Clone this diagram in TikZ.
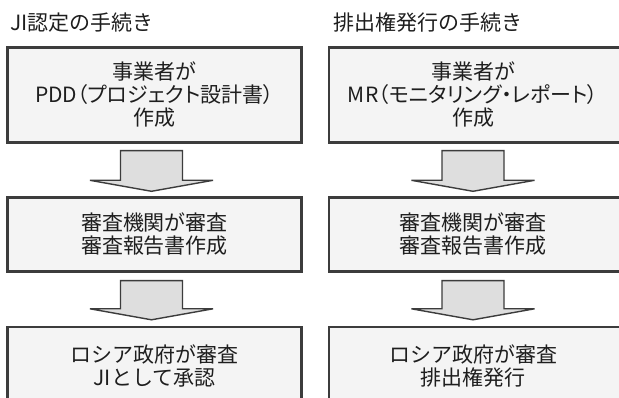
\documentclass[tikz,border=0pt]{standalone}
\usepackage{fontspec}
\setmainfont{Noto Sans CJK JP}
\newfontfamily\propfont[RawFeature=+palt]{Noto Sans CJK JP}
\usetikzlibrary{calc}
\definecolor{boxfill}{HTML}{F4F4F4}
\definecolor{boxline}{HTML}{3C3C3C}
\definecolor{arrfill}{HTML}{DEDEDE}
\definecolor{txt}{HTML}{1E1E1E}
\tikzset{
  stepbox/.style={draw=boxline, line width=2.4pt, fill=boxfill, inner sep=0pt,
    align=center, text=txt, font=\fontsize{21}{23}\selectfont},
  title/.style={anchor=west, inner sep=0pt, text=txt, font=\fontsize{21}{23}\selectfont},
  blockarr/.style={draw=boxline, line width=1.4pt, fill=arrfill, line join=miter},
  boxlabel/.style={align=center, text=txt, font=\fontsize{21}{23}\selectfont, inner sep=0pt}
}
\newcommand{\blockarrow}[2]{%
  \draw[blockarr] ($(#1)+(-31,0)$) -- ($(#1)+(31,0)$) -- ($(#2)+(31,-11)$)
    -- ($(#2)+(61.5,-11)$) -- (#2) -- ($(#2)+(-61.5,-11)$)
    -- ($(#2)+(-31,-11)$) -- cycle;}
\begin{document}
\begin{tikzpicture}[x=1pt,y=-1pt]
\useasboundingbox (0,0) rectangle (619,398);
\clip (0,0) rectangle (619,398);
\fill[white] (0,0) rectangle (619,398);

% titles
\node[title] (t1) at (10,22.5) {JI認定の手続き};
\node[title] (t2) at (333,22.5) {排出権発行の手続き};

% left column
\node[stepbox, minimum width=294, minimum height=95] (l1) at (154.5,95)
  {事業者が\\{\propfont PDD（プロジェクト設計書）}\\作成};
\node[stepbox, minimum width=294, minimum height=74] (l2) at (154.5,234.5)
  {審査機関が審査\\審査報告書作成};
\node[stepbox, minimum width=294, minimum height=78] (l3) at (154.5,366)
  {ロシア政府が審査\\JIとして承認};

% right column (box runs past the right edge)
\node[stepbox, minimum width=311, minimum height=95] (r1) at (484.5,95)
  {\phantom{x}};
\node[boxlabel] (r1t) at ($(r1.center)+(-11.5,0)$)
  {事業者が\\{\propfont MR（モニタリング・レポート）}\\作成};
\node[stepbox, minimum width=311, minimum height=74] (r2) at (484.5,234.5)
  {\phantom{x}};
\node[boxlabel] (r2t) at ($(r2.center)+(-11.5,0)$)
  {審査機関が審査\\審査報告書作成};
\node[stepbox, minimum width=311, minimum height=78] (r3) at (484.5,366)
  {\phantom{x}};
\node[boxlabel] (r3t) at ($(r3.center)+(-11.5,0)$)
  {ロシア政府が審査\\排出権発行};

% arrow anchor coordinates
\coordinate (la1) at ($(l1.south)+(-3,7)$);
\coordinate (lt1) at ($(l2.north)+(-3,-5)$);
\coordinate (la2) at ($(l2.south)+(-3,8)$);
\coordinate (lt2) at ($(l3.north)+(-3,-6)$);
\coordinate (ra1) at ($(r1.south)+(-11.5,7)$);
\coordinate (rt1) at ($(r2.north)+(-11.5,-5)$);
\coordinate (ra2) at ($(r2.south)+(-11.5,8)$);
\coordinate (rt2) at ($(r3.north)+(-11.5,-6)$);

\blockarrow{la1}{lt1}
\blockarrow{la2}{lt2}
\blockarrow{ra1}{rt1}
\blockarrow{ra2}{rt2}
\end{tikzpicture}
\end{document}
